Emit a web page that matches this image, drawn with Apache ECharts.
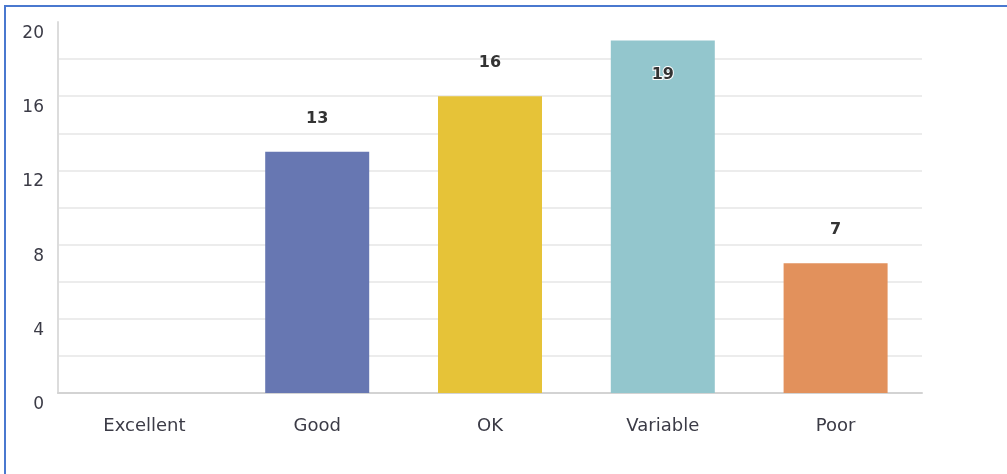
<!DOCTYPE html>
<html>
<head>
<meta charset="utf-8">
<script src="https://cdn.jsdelivr.net/npm/echarts@6/dist/echarts.min.js"></script>
<style>
  html, body { margin: 0; padding: 0; background: #fff; }
  #chart { position: absolute; left: 0; top: 0; width: 1007px; height: 474px; }
  #frame { position: absolute; left: 4px; top: 5px; width: 1100px; height: 600px;
           border-left: 2px solid #4a78cf; border-top: 2px solid #4a78cf; pointer-events: none; }
</style>
</head>
<body>
<div id="chart"></div>
<div id="frame"></div>
<script>
const categories = ['Excellent', 'Good', 'OK', 'Variable', 'Poor'];
const values = [0, 13, 16, 19, 7];
const barColors = ['#6777b2', '#6777b2', '#e6c338', '#93c6cd', '#e2915c'];
const yTicks = [0, 4, 8, 12, 16, 20];

const fontFamily = '"DejaVu Sans", Verdana, sans-serif';
const chart = echarts.init(document.getElementById('chart'));

const data = values.map((v, i) => {
  const item = { value: v, itemStyle: { color: barColors[i] } };
  if (v === 0) item.label = { show: false };
  if (v === 19) {
    item.label = { position: 'insideTop', distance: 26, textBorderColor: '#fff', textBorderWidth: 2 };
  }
  return item;
});

chart.setOption({
  animation: false,
  grid: { left: 58, right: 85, top: 22, bottom: 81 },
  xAxis: {
    type: 'category',
    data: categories,
    axisLine: { show: true, lineStyle: { color: '#d3d3d3', width: 2 } },
    axisTick: { show: false },
    axisLabel: { color: '#3b3b46', fontSize: 18, fontFamily: fontFamily, margin: 24 }
  },
  yAxis: {
    type: 'value',
    min: 0, max: 20, interval: 2,
    axisLine: { show: true, lineStyle: { color: '#dcdcdc', width: 2 } },
    axisTick: { show: false },
    splitLine: { show: true, showMaxLine: false, lineStyle: { color: '#ececec', width: 2 } },
    axisLabel: {
      color: '#3b3b46', fontSize: 17, fontFamily: fontFamily, margin: 14,
      verticalAlign: 'top', padding: [3, 0, 0, 0],
      formatter: v => (yTicks.indexOf(v) >= 0 ? String(v) : '')
    }
  },
  series: [{
    type: 'bar',
    data: data,
    barWidth: 104,
    label: {
      show: true, position: 'top', distance: 25,
      color: '#333', fontSize: 16, fontWeight: 'bold', fontFamily: fontFamily
    }
  }]
});
</script>
</body>
</html>
